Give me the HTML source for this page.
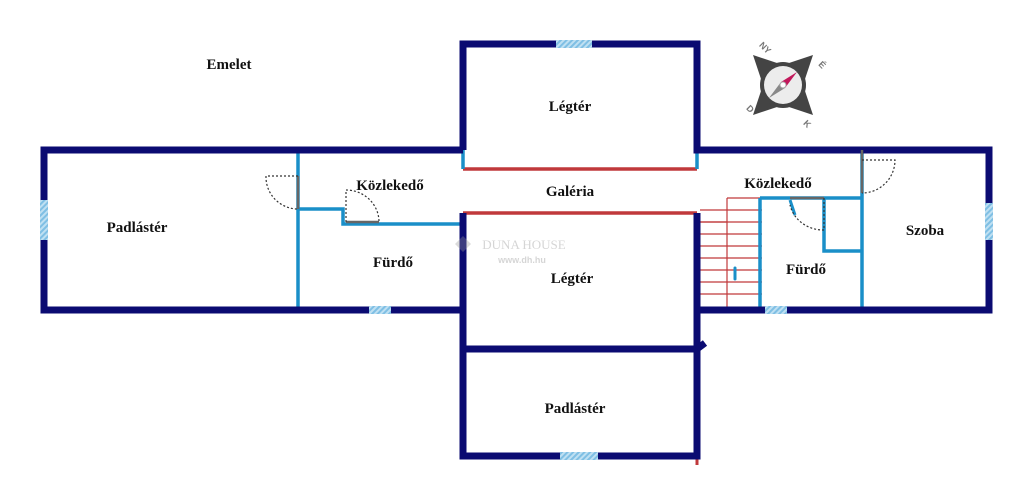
<!DOCTYPE html>
<html><head><meta charset="utf-8"><style>
html,body{margin:0;padding:0;background:#fff;}
svg{display:block}
text{font-family:"Liberation Serif",serif;font-weight:bold;font-size:15px;fill:#111;text-anchor:middle}
</style></head><body>
<svg width="1024" height="496" viewBox="0 0 1024 496" xmlns="http://www.w3.org/2000/svg">
<defs>
<pattern id="h" width="4" height="4" patternUnits="userSpaceOnUse" patternTransform="rotate(45)">
<rect width="4" height="4" fill="#bfe0f2"/><rect width="2" height="4" fill="#7fbfe4"/></pattern>
</defs>
<!-- stairs -->
<g stroke="#c0393b" stroke-width="1.2" fill="none">
<path d="M727 198H762M727 198V307M700 222H727"/>
<path d="M700 210H762M700 222H762M700 234H762M700 246H762M700 258H762M700 270H762M700 282H762M700 294H762"/>
</g>
<line x1="735" y1="268" x2="735" y2="279" stroke="#1a8fc8" stroke-width="3" stroke-linecap="round"/>
<!-- red gallery lines -->
<g stroke="#c0393b" stroke-width="3.5">
<line x1="463" y1="169" x2="697" y2="169"/>
<line x1="463" y1="213" x2="697" y2="213"/>
<line x1="697" y1="457" x2="697" y2="465" stroke-width="3"/>
</g>
<!-- blue interior walls -->
<g stroke="#1a8fc8" stroke-width="3.5" fill="none">
<path d="M298 150V310M298 209H343V224H463"/>
<path d="M463 150V169M697 150V169"/>
<path d="M862 150V310M760 198H862M760 198V310M824 198V251H862"/>
</g>
<!-- navy walls -->
<g stroke="#0b0b72" stroke-width="7" fill="none" stroke-linejoin="miter">
<path d="M463 150H44V310H463"/>
<path d="M463 150V44H697V150H989V310H697"/>
<path d="M463 213V456H697V213"/>
<path d="M463 349H697"/>
<path d="M697 349L705 343"/>
</g>
<!-- windows -->
<rect x="556" y="40" width="36" height="8" fill="url(#h)"/>
<rect x="40" y="200" width="8" height="40" fill="url(#h)"/>
<rect x="369" y="306" width="22" height="8" fill="url(#h)"/>
<rect x="985" y="203" width="8" height="37" fill="url(#h)"/>
<rect x="765" y="306" width="22" height="8" fill="url(#h)"/>
<rect x="560" y="452" width="38" height="8" fill="url(#h)"/>
<!-- doors -->
<g stroke="#666" stroke-width="2.5">
<line x1="298" y1="176" x2="298" y2="209"/>
<line x1="346" y1="222" x2="379" y2="222"/>
<line x1="862" y1="150" x2="862" y2="193"/>
<line x1="790" y1="198" x2="824" y2="198"/>
</g>
<line x1="790" y1="200" x2="795" y2="215" stroke="#1a8fc8" stroke-width="3"/>
<g stroke="#333" stroke-width="1.2" stroke-dasharray="2,2" fill="none">
<path d="M298 176H266A32 32 0 0 0 298 209"/>
<path d="M346 222V190A33 32 0 0 1 379 222"/>
<path d="M862 160H895A33 33 0 0 1 862 193"/>
<path d="M824 198V230A34 32 0 0 1 790 205"/>
</g>
<!-- compass -->
<g transform="translate(783,85)">
<g fill="#444">
<polygon points="-30,-30 -6,-22 -22,-6"/>
<polygon points="30,-30 6,-22 22,-6"/>
<polygon points="-30,30 -6,22 -22,6"/>
<polygon points="30,30 6,22 22,6"/>
</g>
<circle r="23" fill="#444"/>
<circle r="19" fill="#ececec"/>
<polygon points="-14,13 -2,-3 2,3" fill="#888"/>
<polygon points="14,-13 2,3 -2,-3" fill="#c2185b"/>
<circle r="3" fill="#fff" stroke="#aaa"/>
<text x="-20" y="-35" transform="rotate(45 -20 -35)" style="font-family:Liberation Sans,sans-serif;font-size:9px;fill:#777">NY</text>
<text x="37" y="-18" transform="rotate(45 37 -18)" style="font-family:Liberation Sans,sans-serif;font-size:9px;fill:#777">É</text>
<text x="-35" y="26" transform="rotate(45 -35 26)" style="font-family:Liberation Sans,sans-serif;font-size:9px;fill:#777">D</text>
<text x="22" y="41" transform="rotate(45 22 41)" style="font-family:Liberation Sans,sans-serif;font-size:9px;fill:#777">K</text>
</g>
<!-- watermark -->
<g opacity="0.35">
<polygon points="463,236 471,244 463,252 455,244" fill="#999"/>
<text x="524" y="249" style="font-size:13px;fill:#888;font-weight:normal">DUNA HOUSE</text>
<text x="522" y="263" style="font-family:Liberation Sans,sans-serif;font-size:9px;fill:#888">www.dh.hu</text>
</g>
<!-- labels -->
<text x="229" y="69">Emelet</text>
<text x="570" y="111">Légtér</text>
<text x="570" y="196">Galéria</text>
<text x="390" y="190">Közlekedő</text>
<text x="137" y="232">Padlástér</text>
<text x="393" y="267">Fürdő</text>
<text x="572" y="283">Légtér</text>
<text x="575" y="413">Padlástér</text>
<text x="778" y="188">Közlekedő</text>
<text x="806" y="274">Fürdő</text>
<text x="925" y="235">Szoba</text>
</svg>
</body></html>
